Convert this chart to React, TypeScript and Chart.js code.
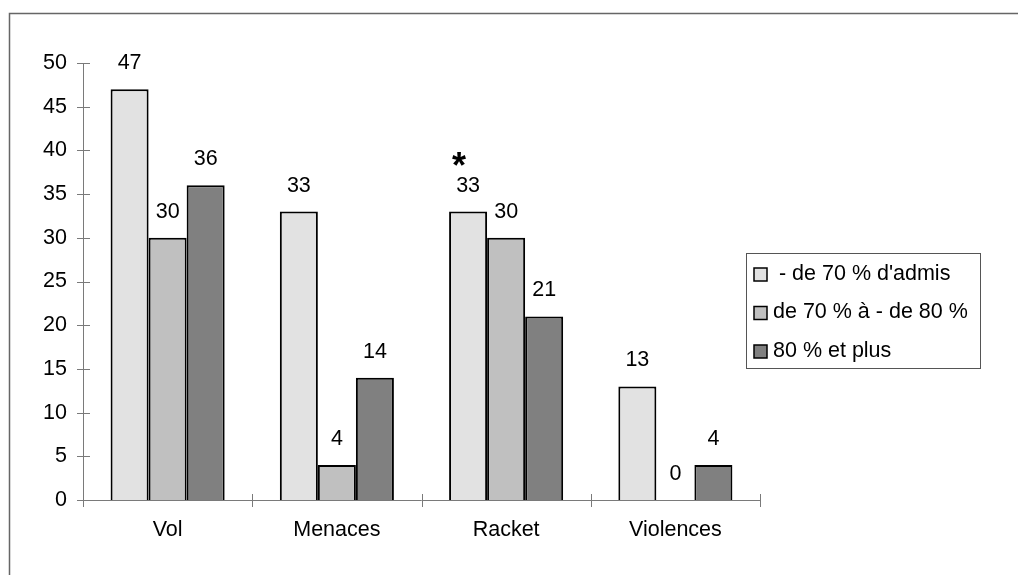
import React, { useEffect, useRef } from "react";
import { Chart, registerables } from "chart.js";

Chart.register(...registerables);

const categories = ["Vol", "Menaces", "Racket", "Violences"];
const seriesLabels = [" - de 70 % d'admis", "de 70 % à - de 80 %", "80 % et plus"];
const seriesLow = [47, 33, 33, 13];
const seriesMid = [30, 4, 30, 0];
const seriesHigh = [36, 14, 21, 4];
const seriesColors = ["#e2e2e2", "#c0c0c0", "#808080"];
const yTicks = [0, 5, 10, 15, 20, 25, 30, 35, 40, 45, 50];
// significance marks: [datasetIndex, categoryIndex, mark]
const marks: [number, number, string][] = [[0, 2, "*"]];

const FONT = "'Liberation Sans', Arial, sans-serif";
const FS = 21.5;

const drawPlugin = {
  id: "customDraw",
  beforeDraw(chart: any) {
    const ctx = chart.ctx;
    ctx.save();
    ctx.strokeStyle = "#666666";
    ctx.lineWidth = 1.5;
    ctx.strokeRect(9.5, 13.5, 1200, 800);
    ctx.restore();
  },
  afterDatasetsDraw(chart: any) {
    const ctx = chart.ctx;
    const area = chart.chartArea;
    const ys = chart.scales.y;
    ctx.save();
    // axes
    ctx.strokeStyle = "#7a7a7a";
    ctx.lineWidth = 1;
    ctx.beginPath();
    ctx.moveTo(area.left + 0.5, ys.getPixelForValue(50));
    ctx.lineTo(area.left + 0.5, area.bottom);
    ctx.moveTo(area.left, area.bottom + 0.5);
    ctx.lineTo(area.right, area.bottom + 0.5);
    yTicks.forEach((v) => {
      const y = Math.round(ys.getPixelForValue(v)) + 0.5;
      ctx.moveTo(area.left - 6, y);
      ctx.lineTo(area.left + 7, y);
    });
    for (let i = 0; i <= categories.length; i++) {
      const x = Math.round(area.left + (i * (area.right - area.left)) / categories.length) + 0.5;
      ctx.moveTo(x, area.bottom - 6);
      ctx.lineTo(x, area.bottom + 7);
    }
    ctx.stroke();

    // value labels
    ctx.fillStyle = "#000";
    ctx.font = `${FS}px ${FONT}`;
    ctx.textAlign = "center";
    ctx.textBaseline = "middle";
    chart.data.datasets.forEach((ds: any, di: number) => {
      const meta = chart.getDatasetMeta(di);
      meta.data.forEach((bar: any, i: number) => {
        ctx.fillText(String(ds.data[i]), bar.x, bar.y - 26);
      });
    });
    // marks
    ctx.font = `bold 36px ${FONT}`;
    ctx.textBaseline = "alphabetic";
    marks.forEach(([di, ci, m]) => {
      const bar = chart.getDatasetMeta(di).data[ci];
      ctx.fillText(m, bar.x - 9, bar.y - 34);
    });

    // legend
    const lx = 746, ly = 253, lw = 234, lh = 115;
    ctx.strokeStyle = "#555";
    ctx.lineWidth = 1;
    ctx.strokeRect(lx + 0.5, ly + 0.5, lw, lh);
    ctx.textAlign = "left";
    ctx.textBaseline = "middle";
    ctx.font = `${FS}px ${FONT}`;
    chart.data.datasets.forEach((ds: any, di: number) => {
      const cy = ly + 21 + di * 38.5;
      ctx.fillStyle = ds.backgroundColor;
      ctx.fillRect(754, cy - 6, 13, 13);
      ctx.strokeStyle = "#000";
      ctx.lineWidth = 1.5;
      ctx.strokeRect(754, cy - 6, 13, 13);
      ctx.fillStyle = "#000";
      ctx.fillText(ds.label, 773, cy);
    });
    ctx.restore();
  },
};

export default function App() {
  const ref = useRef<HTMLCanvasElement>(null);
  useEffect(() => {
    if (!ref.current) return;
    const data = [seriesLow, seriesMid, seriesHigh];
    const chart = new Chart(ref.current, {
      type: "bar",
      data: {
        labels: categories,
        datasets: data.map((d, i) => ({
          label: seriesLabels[i],
          data: d,
          backgroundColor: seriesColors[i],
          borderColor: "#000",
          borderWidth: 2,
          borderSkipped: "bottom" as any,
          categoryPercentage: 0.674,
          barPercentage: 1,
        })),
      },
      options: {
        responsive: false,
        animation: false,
        layout: { padding: { left: 0, right: 258, top: 63, bottom: 0 } },
        plugins: { legend: { display: false }, tooltip: { enabled: false } },
        scales: {
          x: {
            grid: { display: false, drawTicks: false },
            border: { display: false },
            ticks: { font: { size: FS, family: FONT }, color: "#000", padding: 17 },
            afterFit: (s: any) => { s.height = 75; },
          },
          y: {
            min: 0,
            max: 50,
            grid: { display: false, drawTicks: false },
            border: { display: false },
            ticks: { stepSize: 5, font: { size: FS, family: FONT }, color: "#000", padding: 16 },
            afterFit: (s: any) => { s.width = 83; },
          },
        },
      },
      plugins: [drawPlugin],
    });
    return () => chart.destroy();
  }, []);
  return (
    <div style={{ position: "absolute", left: 0, top: 0, width: 1018, height: 575, background: "#fff" }}>
      <canvas ref={ref} width={1018} height={575} />
    </div>
  );
}
